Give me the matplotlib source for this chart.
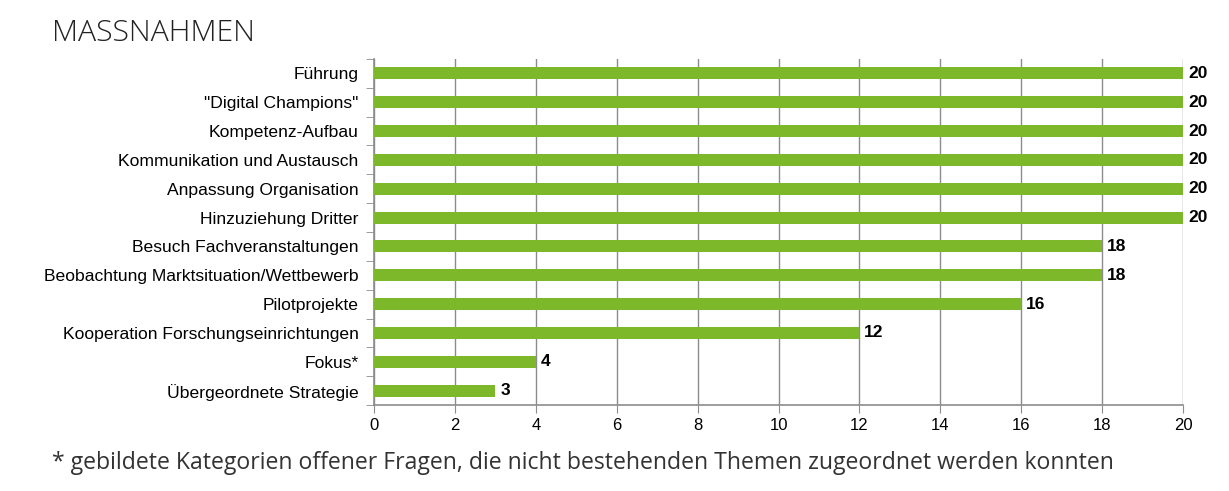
import numpy as np
import matplotlib.pyplot as plt

# Daten
categories = ['Führung', '"Digital Champions"', 'Kompetenz-Aufbau',
              'Kommunikation und Austausch', 'Anpassung Organisation',
              'Hinzuziehung Dritter', 'Besuch Fachveranstaltungen',
              'Beobachtung Marktsituation/Wettbewerb', 'Pilotprojekte',
              'Kooperation Forschungseinrichtungen', 'Fokus*',
              'Übergeordnete Strategie']
values = [20, 20, 20, 20, 20, 20, 18, 18, 16, 12, 4, 3]
xticks = [0, 2, 4, 6, 8, 10, 12, 14, 16, 18, 20]

green = '#7DB72A'
grid_col = '#8C8C8C'

fig = plt.figure(figsize=(12.29, 4.91), dpi=100)
ax = fig.add_axes([0.3043, 0.175, 0.6583, 0.705])

y = np.arange(len(categories))
ax.barh(y, values, height=0.42, color=green, zorder=3)
ax.set_ylim(len(categories) - 0.5, -0.5)
ax.set_xlim(0, 20)

ax.set_xticks(xticks)
ax.set_xticklabels([str(t) for t in xticks], fontsize=12, family='Liberation Sans')
ax.set_yticks(y)
ax.set_yticklabels(categories, fontsize=12.6, family='Liberation Sans')
ax.tick_params(axis='y', length=0, pad=11)
ax.tick_params(axis='x', length=6, color=grid_col, pad=3)

# Trennstriche an der y-Achse
ax.set_yticks(np.arange(-0.5, len(categories)), minor=True)
ax.tick_params(axis='y', which='minor', length=6, color=grid_col)

ax.grid(axis='x', color=grid_col, linewidth=1, zorder=0)
for s in ['top', 'right']:
    ax.spines[s].set_visible(False)
for s in ['left', 'bottom']:
    ax.spines[s].set_color(grid_col)
    ax.spines[s].set_linewidth(1.2)

for yi, v in zip(y, values):
    ax.text(v + 0.12, yi, str(v), va='center', ha='left', fontsize=12.5,
            fontweight='bold', family='Liberation Sans')

fig.text(0.042, 0.932, 'MASSNAHMEN', fontsize=21.8, family='Open Sans',
         fontweight='light', color='#222222', va='center')
fig.text(0.042, 0.058, '* gebildete Kategorien offener Fragen, die nicht bestehenden Themen zugeordnet werden konnten',
         fontsize=16.6, family='Open Sans', color='#333333', va='center')

fig.savefig('out.png', dpi=100)
